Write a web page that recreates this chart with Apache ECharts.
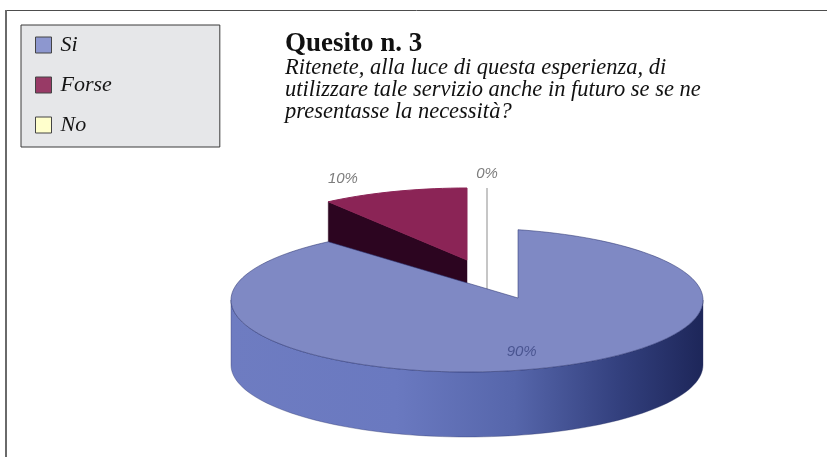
<!DOCTYPE html>
<html>
<head>
<meta charset="utf-8">
<script src="https://cdn.jsdelivr.net/npm/echarts@6/dist/echarts.min.js"></script>
<style>
  html, body { margin: 0; padding: 0; background: #ffffff; }
  #chart { width: 827px; height: 457px; }
</style>
</head>
<body>
<div id="chart"></div>
<script>
// Survey answers and their shares (percent)
const categories = ['Si', 'Forse', 'No'];
const percentValues = [90, 10, 0];

const titleText = 'Quesito n. 3';
const questionLines = [
  'Ritenete, alla luce di questa esperienza, di',
  'utilizzare tale servizio anche in futuro se se ne',
  'presentasse la necessità?'
];

// Appearance of each slice
const topColors = ['#7f89c4', '#8b2456', '#ffffcc'];
const legendColors = ['#8d97cf', '#983a66', '#ffffcc'];
const cutColors = ['#3b4685', '#2c0520', '#f4f4d8'];
const labelColors = ['#4a5591', '#7d7d7d', '#7d7d7d'];
const seriesZ = [4, 2, 3];

// Pseudo-3D pie geometry (screen pixels)
const PIE = { cx: 467, cy: 300, rx: 236, ry: 72, depth: 65 };
const EXPLODE = [
  { dx: 0, dy: 0, apexDx: 51, apexDy: -2, labelR: 0.75, labelDx: 0, labelDy: 0 },
  { dx: 0, dy: -40, apexDx: 0, apexDy: 0, labelR: 1.18, labelDx: -38, labelDy: 0 },
  { dx: 20, dy: -40, apexDx: 0, apexDy: 0, labelR: 1.2, labelDx: 0, labelDy: 0 }
];

const total = percentValues.reduce((a, b) => a + b, 0);

function sliceAngles(k) {
  let start = 0;
  for (let i = 0; i < k; i++) start += percentValues[i] / total * 360;
  return [start, start + percentValues[k] / total * 360];
}

function rimPoint(theta, ox, oy, z) {
  const r = theta * Math.PI / 180;
  return [PIE.cx + ox + PIE.rx * Math.sin(r), PIE.cy + oy - PIE.ry * Math.cos(r) + z];
}

function arcPoints(a0, a1, ox, oy, z) {
  const n = Math.max(1, Math.ceil(Math.abs(a1 - a0) / 2));
  const pts = [];
  for (let i = 0; i <= n; i++) pts.push(rimPoint(a0 + (a1 - a0) * i / n, ox, oy, z));
  return pts;
}

function isFrontFacing(normalDeg) {
  return Math.cos(normalDeg * Math.PI / 180) < -1e-6;
}

function buildSlice(k) {
  const [start, end] = sliceAngles(k);
  const L = EXPLODE[k];
  const H = PIE.depth;
  const apex = [PIE.cx + L.dx + L.apexDx, PIE.cy + L.dy + L.apexDy];
  const apexLow = [apex[0], apex[1] + H];
  const children = [];

  // a gap on the leading edge keeps that cut vertical above the apex
  const a0 = L.apexDx > 0 ? start + Math.asin(L.apexDx / PIE.rx) * 180 / Math.PI : start;
  const a1 = end;

  if (end - start <= 1e-9) {
    // an empty slice is drawn as a thin upright slab
    const t = rimPoint(start, L.dx, L.dy, 0);
    const b = rimPoint(start, L.dx, L.dy, H);
    children.push({
      type: 'polygon',
      shape: { points: [t, apex, apexLow, b] },
      style: { fill: topColors[k], stroke: '#b4b4b4', lineWidth: 1.5 }
    });
  } else {
    // radial cut faces
    const faces = [[a0, a0 - 90], [a1, a1 + 90]];
    faces.forEach(([ang, nrm]) => {
      if (!isFrontFacing(nrm)) return;
      const t = rimPoint(ang, L.dx, L.dy, 0);
      const b = rimPoint(ang, L.dx, L.dy, H);
      children.push({
        type: 'polygon',
        shape: { points: [apex, t, b, apexLow] },
        style: { fill: cutColors[k], stroke: cutColors[k], lineWidth: 0.5 }
      });
    });

    // outer wall: only the part facing the viewer (90..270 deg)
    [[90, 270], [450, 630]].forEach(([f0, f1]) => {
      const s = Math.max(a0, f0), e = Math.min(a1, f1);
      if (e <= s) return;
      const top = arcPoints(s, e, L.dx, L.dy, 0);
      const bottom = arcPoints(e, s, L.dx, L.dy, H);
      children.push({
        type: 'polygon',
        shape: { points: top.concat(bottom) },
        style: {
          fill: new echarts.graphic.LinearGradient(0, 0, 1, 0, [
            { offset: 0, color: '#6e7cc1' },
            { offset: 0.35, color: '#6a79c0' },
            { offset: 0.6, color: '#5666ab' },
            { offset: 0.82, color: '#33407e' },
            { offset: 1, color: '#1d2659' }
          ]),
          stroke: 'rgba(40,48,100,0.35)',
          lineWidth: 1
        }
      });
    });

    // top face
    const topPts = [apex].concat(arcPoints(a0, a1, L.dx, L.dy, 0));
    children.push({
      type: 'polygon',
      shape: { points: topPts },
      style: { fill: topColors[k], stroke: k === 0 ? 'rgba(45,55,115,0.55)' : topColors[k], lineWidth: 1 }
    });
  }

  // value label
  const mid = (start + end) / 2 * Math.PI / 180;
  const lx = PIE.cx + L.dx + PIE.rx * L.labelR * Math.sin(mid) + L.labelDx;
  const ly = PIE.cy + L.dy - PIE.ry * L.labelR * Math.cos(mid) + L.labelDy;
  children.push({
    type: 'text',
    x: lx, y: ly,
    style: {
      text: percentValues[k] + '%',
      fill: labelColors[k],
      font: 'italic 15px "Liberation Sans", Arial, sans-serif',
      textAlign: 'center', textVerticalAlign: 'middle',
      align: 'center', verticalAlign: 'middle'
    }
  });

  return { type: 'group', children };
}

const chart = echarts.init(document.getElementById('chart'), null, { renderer: 'canvas' });

chart.setOption({
  animation: false,
  backgroundColor: '#ffffff',
  legend: {
    data: categories,
    orient: 'vertical',
    left: 21,
    top: 25,
    padding: [9, 108, 11, 14],
    backgroundColor: '#e6e7e9',
    borderColor: '#3a3a3a',
    borderWidth: 1,
    icon: 'rect',
    itemWidth: 16,
    itemHeight: 16,
    itemGap: 18,
    selectedMode: false,
    itemStyle: { borderColor: '#444444', borderWidth: 1 },
    textStyle: {
      fontFamily: '"Liberation Serif", serif',
      fontStyle: 'italic',
      fontSize: 22,
      color: '#151515',
      padding: [0, 0, 0, 4]
    }
  },
  graphic: [
    { type: 'line', shape: { x1: 6, y1: 10.5, x2: 827, y2: 10.5 }, style: { stroke: '#4d4d4d', lineWidth: 1 } },
    { type: 'line', shape: { x1: 6, y1: 10, x2: 6, y2: 457 }, style: { stroke: '#6a6a6a', lineWidth: 2 } },
    {
      type: 'text', left: 285, top: 31,
      style: { text: titleText, font: 'bold 27px "Liberation Serif", serif', fill: '#111111' }
    },
    {
      type: 'text', left: 285, top: 57,
      style: {
        text: questionLines.join('\n'),
        font: 'italic 22.5px "Liberation Serif", serif',
        lineHeight: 22,
        fill: '#111111'
      }
    }
  ],
  series: categories.map((name, k) => ({
    type: 'custom',
    name: name,
    coordinateSystem: 'none',
    silent: true,
    z: seriesZ[k],
    itemStyle: { color: legendColors[k] },
    data: [percentValues[k]],
    renderItem: () => buildSlice(k)
  }))
});
</script>
</body>
</html>
